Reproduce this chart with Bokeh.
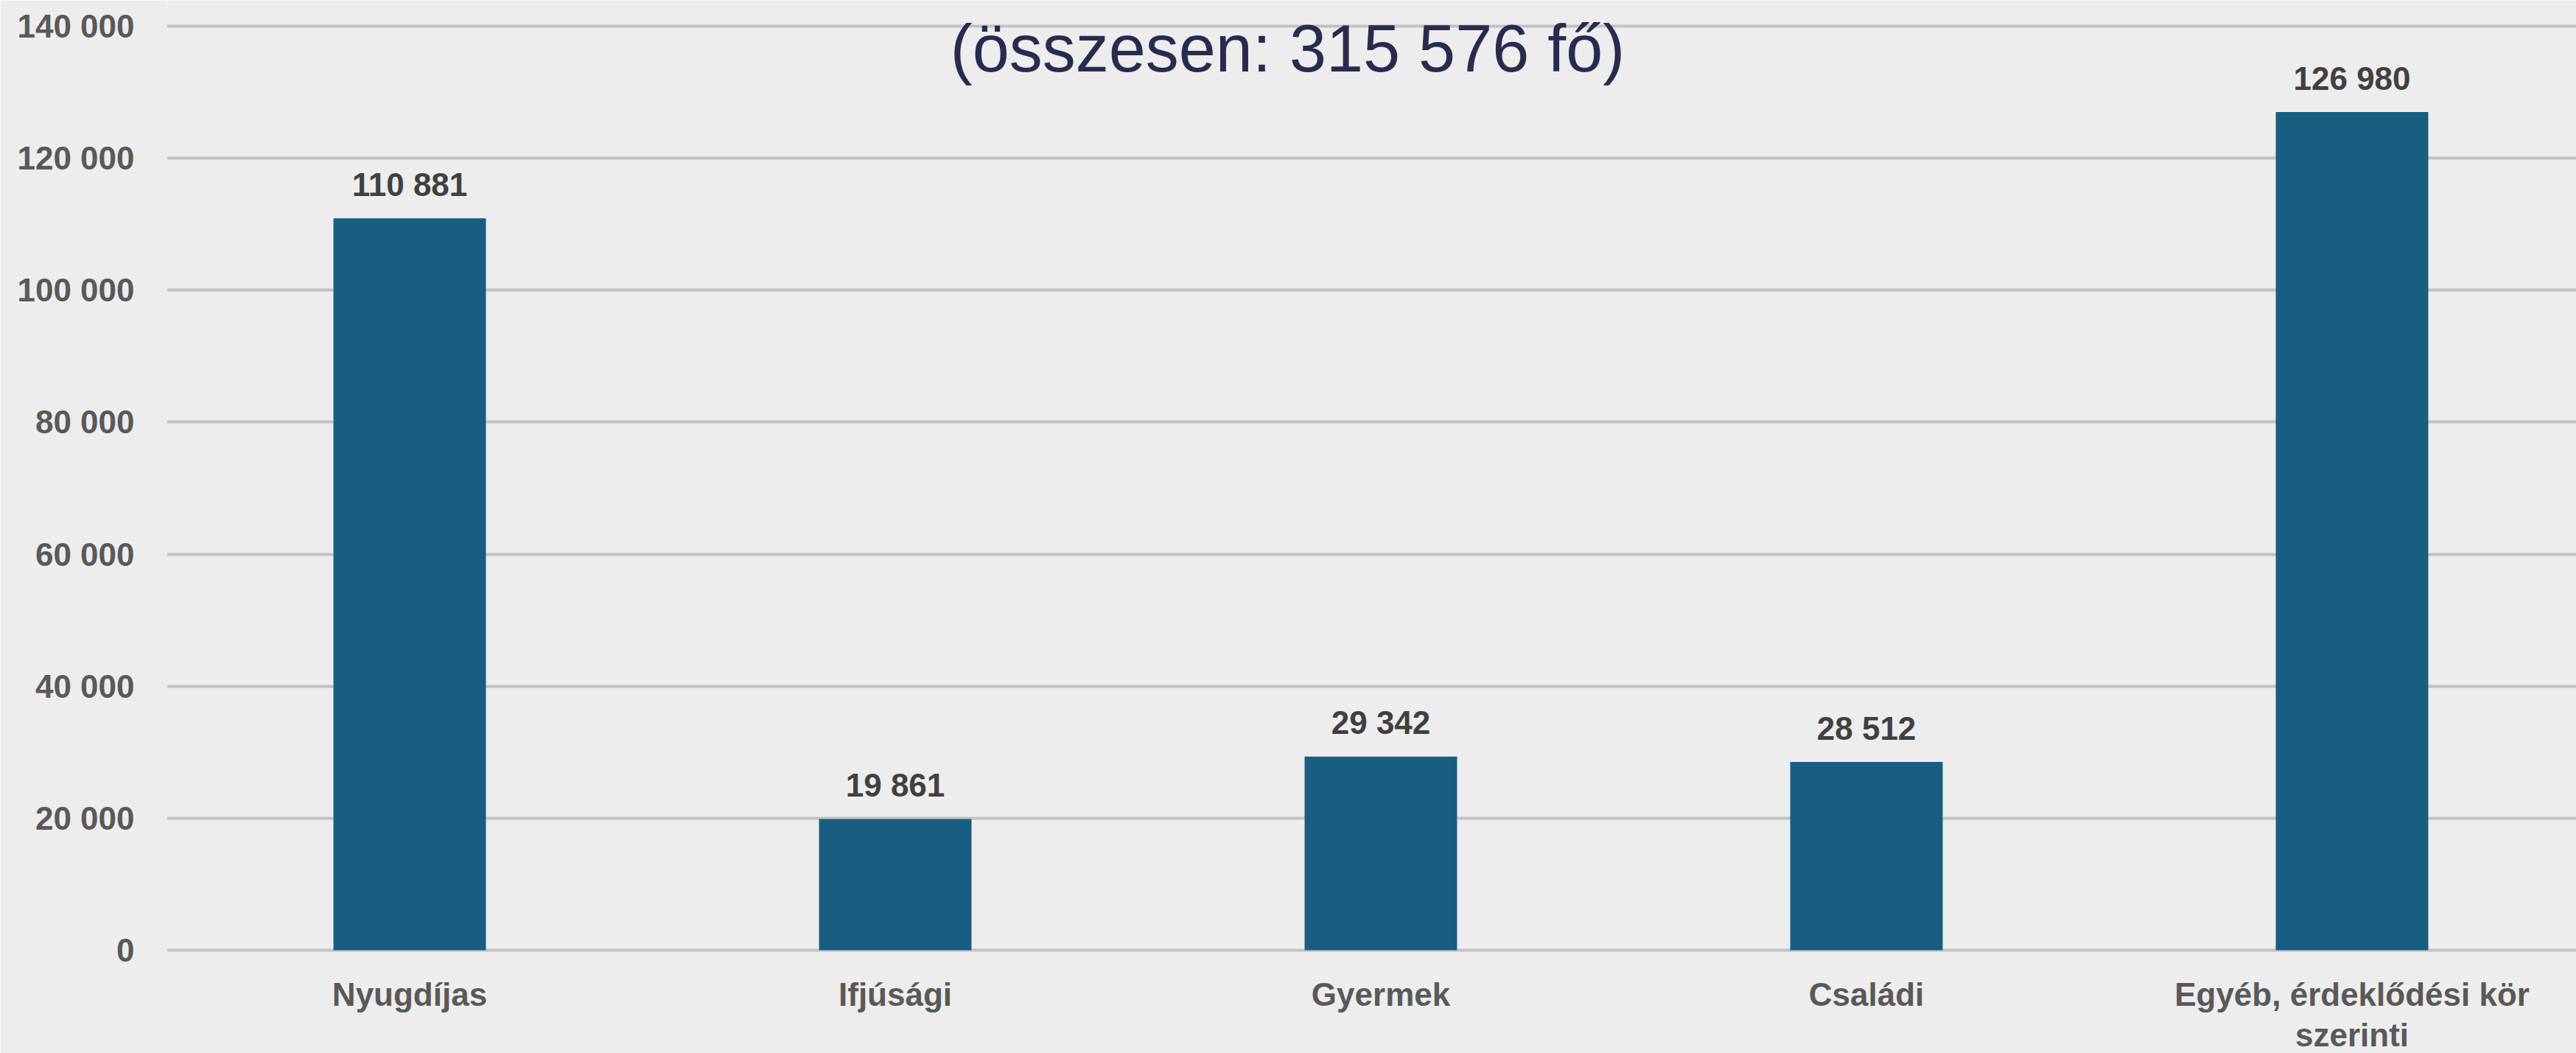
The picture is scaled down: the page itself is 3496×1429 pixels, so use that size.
from bokeh.plotting import figure
from bokeh.models import Range1d, FixedTicker, ColumnDataSource
from bokeh.core.properties import value
from bokeh.embed import file_html
from bokeh.resources import INLINE

# ---- data ----
categories = ["Nyugdíjas", "Ifjúsági", "Gyermek", "Családi", "Egyéb, érdeklődési kör\nszerinti"]
members = [110881, 19861, 29342, 28512, 126980]
y_ticks = [0, 20000, 40000, 60000, 80000, 100000, 120000, 140000]
title_text = "(összesen: 315 576 fő)"


def fmt(v):
    return f"{v:,}".replace(",", " ")


positions = list(range(len(categories)))
src = ColumnDataSource(dict(x=positions, top=members, lab=[fmt(v) for v in members]))

# category labels (wrapped label split into lines)
first_lines = [c.split("\n")[0] for c in categories]
second_x = [i for i, c in zip(positions, categories) if "\n" in c]
second_lines = [c.split("\n")[1] for c in categories if "\n" in c]

BG = "#EDEDED"
FONT = "Liberation Sans"

p = figure(width=3496, height=1429,
           x_range=Range1d(-0.5, 4.462), y_range=Range1d(-15630, 143907),
           output_backend="svg", toolbar_location=None,
           min_border_left=226, min_border_right=0, min_border_top=0, min_border_bottom=0,
           background_fill_color=BG, border_fill_color=BG, outline_line_color=None)

# grid
p.xgrid.visible = False
p.ygrid.ticker = FixedTicker(ticks=y_ticks)
p.ygrid.grid_line_color = "#C2C2C2"
p.ygrid.grid_line_width = 4

# y axis
p.yaxis.ticker = FixedTicker(ticks=y_ticks)
p.yaxis.major_label_overrides = {t: fmt(t) for t in y_ticks}
p.yaxis.axis_line_color = None
p.yaxis.major_tick_line_color = None
p.yaxis.minor_tick_line_color = None
p.yaxis.major_tick_out = 0
p.yaxis.major_tick_in = 0
p.yaxis.major_label_standoff = 44
p.yaxis.major_label_text_font = FONT
p.yaxis.major_label_text_font_style = "bold"
p.yaxis.major_label_text_font_size = "44px"
p.yaxis.major_label_text_color = "#595959"

# x axis: category labels drawn in the plot area below the zero line
p.xaxis.visible = False

# bars
p.vbar(x="x", top="top", bottom=0, width=0.314, source=src,
       fill_color="#175E80", line_color=None)

# data labels
p.text(x="x", y="top", text="lab", source=src,
       text_align="center", text_baseline="middle", y_offset=-46,
       text_font=value(FONT), text_font_style="bold", text_font_size="44px",
       text_color="#404040")

# category labels
cat_style = dict(text_align="center", text_baseline="middle",
                 text_font=value(FONT), text_font_style="bold",
                 text_font_size="44px", text_color="#595959")
p.text(x=positions, y=[0] * len(positions), text=first_lines, y_offset=60, **cat_style)
p.text(x=second_x, y=[0] * len(second_x), text=second_lines, y_offset=115, **cat_style)

# title (inside plot area, overlapping top gridline)
p.text(x=[1.808], y=[136540], text=[title_text],
       text_align="center", text_baseline="middle",
       text_font=value(FONT), text_font_size="90px", text_color="#272C4F")

open("out.html", "w").write(file_html(p, INLINE))
